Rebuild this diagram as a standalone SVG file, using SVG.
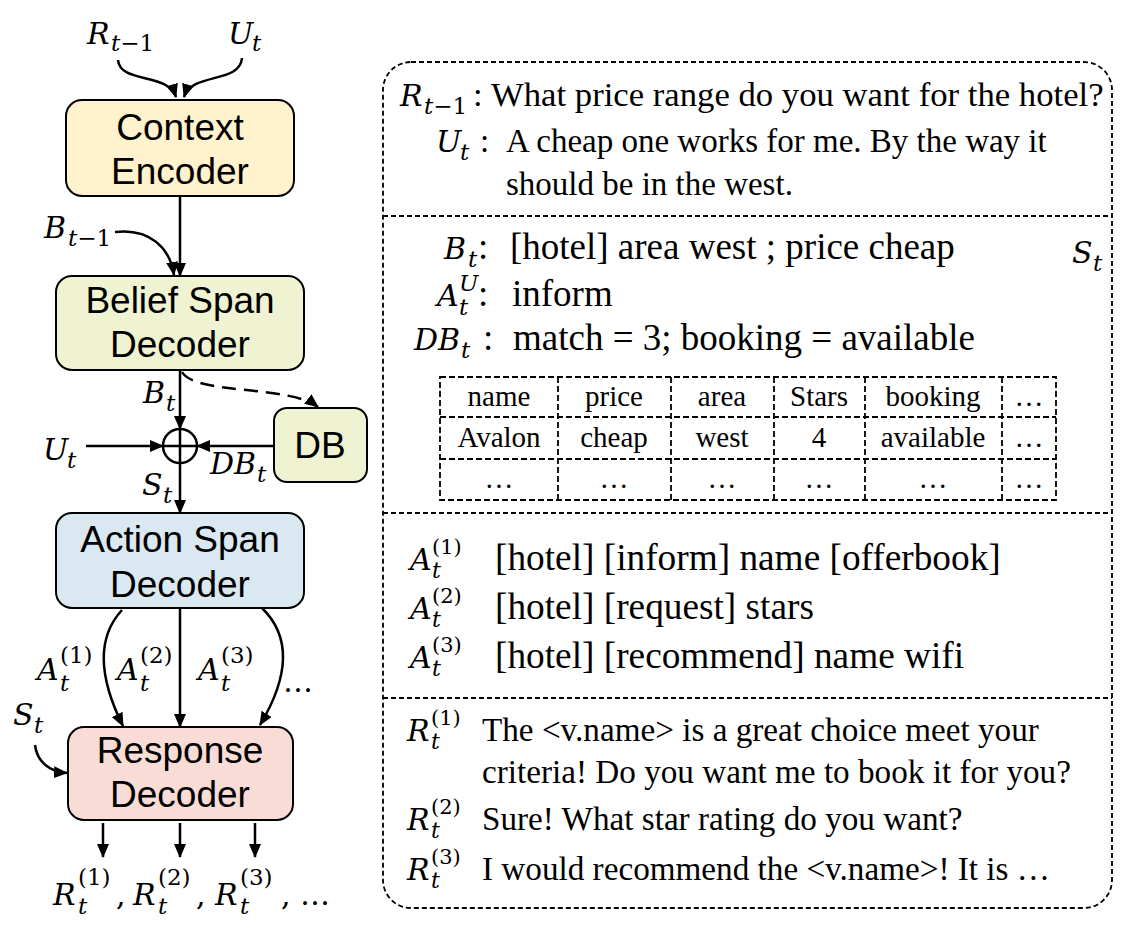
<svg xmlns="http://www.w3.org/2000/svg" width="1127" height="937" viewBox="0 0 1127 937">
<style>
.box{stroke:#000;stroke-width:2}
.lbl{font-family:"Liberation Sans",Arial,sans-serif;font-size:37px;text-anchor:middle;fill:#000}
.m{font-family:"DejaVu Serif","Liberation Serif",serif;font-style:italic;font-size:30px;fill:#000}
.s{font-size:23px}
.s2{font-size:22px}
.sp{font-size:21px;font-style:normal}
.u{font-style:normal}
.t{font-family:"Liberation Serif","Times New Roman",serif;fill:#000}
.t1{font-size:34.7px}
.t1b{font-size:33px}
.t2{font-size:37px}
.t3{font-size:37.3px}
.t4{font-size:33.2px}
.tb{font-size:29px;text-anchor:middle}
.c{stroke:#000;stroke-width:2.5;fill:none}
.d{stroke:#000;stroke-width:1.8;fill:none;stroke-dasharray:6 3}
</style>
<defs>
<marker id="ah" markerUnits="userSpaceOnUse" markerWidth="14" markerHeight="12" refX="13" refY="6" orient="auto">
<path d="M0,0 L14,6 L0,12 z" fill="#000"/>
</marker>
</defs>

<g id="connectors">
<path class="c" d="M118,60 C120,84 168,72 176,97" marker-end="url(#ah)"/>
<path class="c" d="M242,58 C240,84 192,72 184,97" marker-end="url(#ah)"/>
<path class="c" d="M180,196 V276" marker-end="url(#ah)"/>
<path class="c" d="M115,232 C150,228 170,248 174,275" marker-end="url(#ah)"/>
<path class="c" d="M180,370 V429" marker-end="url(#ah)"/>
<path class="c" d="M182,372 C195,395 290,385 318,407" stroke-dasharray="14 8" marker-end="url(#ah)"/>
<path class="c" d="M86,446 H163" marker-end="url(#ah)"/>
<path class="c" d="M274,446 H197" marker-end="url(#ah)"/>
<path class="c" d="M180,463 V513" marker-end="url(#ah)"/>
<path class="c" d="M122,610 Q85,650 123,726" marker-end="url(#ah)"/>
<path class="c" d="M180,608 V727" marker-end="url(#ah)"/>
<path class="c" d="M262,608 Q305,650 260,725" marker-end="url(#ah)"/>
<path class="c" d="M35,745 C37,762 50,772 67,773" marker-end="url(#ah)"/>
<path class="c" d="M103,823 V857" marker-end="url(#ah)"/>
<path class="c" d="M180,823 V857" marker-end="url(#ah)"/>
<path class="c" d="M255,823 V857" marker-end="url(#ah)"/>
</g>

<g id="context-encoder">
<rect class="box" x="66" y="100" width="228" height="96" rx="16" fill="#FFF2CC"/>
<text class="lbl" x="180" y="140">Context</text>
<text class="lbl" x="180" y="184">Encoder</text>
</g>
<g id="belief-span-decoder">
<rect class="box" x="56" y="276" width="248" height="94" rx="16" fill="#EFF3D1"/>
<text class="lbl" x="180" y="313">Belief Span</text>
<text class="lbl" x="180" y="357">Decoder</text>
</g>
<g id="db">
<rect class="box" x="274" y="408" width="93" height="74" rx="13" fill="#EFF3D1"/>
<text class="lbl" x="320" y="458">DB</text>
</g>
<g id="concat">
<circle cx="180" cy="446" r="17" fill="#fff" stroke="#000" stroke-width="2.5"/>
<path d="M163,446 H197 M180,429 V463" stroke="#000" stroke-width="2.5"/>
</g>
<g id="action-span-decoder">
<rect class="box" x="56" y="513" width="248" height="95" rx="16" fill="#DAE8F1"/>
<text class="lbl" x="180" y="552">Action Span</text>
<text class="lbl" x="180" y="597">Decoder</text>
</g>
<g id="response-decoder">
<rect class="box" x="68" y="727" width="225" height="93" rx="16" fill="#F8DCD5"/>
<text class="lbl" x="180" y="763">Response</text>
<text class="lbl" x="180" y="807">Decoder</text>
</g>

<g id="left-labels">
<text class="m" x="87" y="44">R<tspan class="s" x="111" y="51">t<tspan class="u">−1</tspan></tspan></text>
<text class="m" x="228" y="44">U<tspan class="s" x="252" y="51">t</tspan></text>
<text class="m" x="44" y="238">B<tspan class="s" x="68" y="246">t<tspan class="u">−1</tspan></tspan></text>
<text class="m" x="143" y="403">B<tspan class="s" x="166" y="411">t</tspan></text>
<text class="m" x="43" y="460">U<tspan class="s" x="67" y="468">t</tspan></text>
<text class="m" x="210" y="474">DB<tspan class="s" x="257" y="482">t</tspan></text>
<text class="m" x="142" y="495">S<tspan class="s" x="163" y="503">t</tspan></text>
<text class="m" x="37" y="680">A<tspan class="s" x="60" y="691">t</tspan><tspan class="s u" x="60" y="663">(1)</tspan></text>
<text class="m" x="117" y="680">A<tspan class="s" x="140" y="691">t</tspan><tspan class="s u" x="140" y="663">(2)</tspan></text>
<text class="m" x="198" y="680">A<tspan class="s" x="221" y="691">t</tspan><tspan class="s u" x="221" y="663">(3)</tspan></text>
<text class="m u" x="283" y="692">…</text>
<text class="m" x="13" y="725">S<tspan class="s" x="34" y="733">t</tspan></text>
<text class="m" x="53" y="905">R<tspan class="s" x="78" y="914">t</tspan><tspan class="s u" x="78" y="885">(1)</tspan><tspan class="u" x="116" y="905">,</tspan></text>
<text class="m" x="133" y="905">R<tspan class="s" x="158" y="914">t</tspan><tspan class="s u" x="158" y="885">(2)</tspan><tspan class="u" x="196" y="905">,</tspan></text>
<text class="m" x="215" y="905">R<tspan class="s" x="240" y="914">t</tspan><tspan class="s u" x="240" y="885">(3)</tspan><tspan class="u" x="281" y="905">,</tspan></text>
<text class="m u" x="300" y="905">…</text>
</g>

<g id="panel">
<rect x="383" y="62" width="729" height="846" rx="28" fill="none" stroke="#000" stroke-width="1.8" stroke-dasharray="5 3"/>
<path d="M383,216 H1112 M383,513 H1112 M383,698 H1112" stroke="#000" stroke-width="1.8" stroke-dasharray="5 3" fill="none"/>
</g>

<g id="section-context">
<text class="m" x="400" y="106">R<tspan class="s" x="424" y="114">t<tspan class="u">−1</tspan></tspan></text>
<text class="t t1" x="473" y="106">:</text>
<text class="t t1" x="491" y="106">What price range do you want for the hotel?</text>
<text class="m" x="436" y="152">U<tspan class="s" x="460" y="160">t</tspan></text>
<text class="t t1b" x="480" y="152">:</text>
<text class="t t1b" x="506" y="152">A cheap one works for me. By the way it</text>
<text class="t t1b" x="506" y="195">should be in the west.</text>
</g>

<g id="section-state">
<text class="m" x="444" y="259">B<tspan class="s" x="468" y="267">t</tspan></text>
<text class="t t2" x="478" y="259">:</text>
<text class="t t2" x="510" y="259">[hotel] area west ; price cheap</text>
<text class="m" x="1072" y="263">S<tspan class="s" x="1093" y="271">t</tspan></text>
<text class="m" x="437" y="306">A<tspan class="s" x="459" y="315">t</tspan><tspan class="s" x="459" y="291">U</tspan></text>
<text class="t t2" x="478" y="306">:</text>
<text class="t t2" x="512" y="306">inform</text>
<text class="m" x="414" y="350">DB<tspan class="s" x="461" y="358">t</tspan></text>
<text class="t t2" x="483" y="350">:</text>
<text class="t t2" x="513" y="350">match = 3; booking = available</text>
</g>

<g id="db-table">
<rect class="d" x="440" y="377" width="616" height="123"/>
<path class="d" d="M440,417 H1056 M440,459 H1056 M558,377 V500 M671,377 V500 M774,377 V500 M865,377 V500 M1002,377 V500"/>
<text class="t tb" x="499" y="406">name</text>
<text class="t tb" x="614" y="406">price</text>
<text class="t tb" x="722" y="406">area</text>
<text class="t tb" x="819" y="406">Stars</text>
<text class="t tb" x="933" y="406">booking</text>
<text class="t tb" x="1029" y="406">…</text>
<text class="t tb" x="499" y="447">Avalon</text>
<text class="t tb" x="614" y="447">cheap</text>
<text class="t tb" x="722" y="447">west</text>
<text class="t tb" x="819" y="447">4</text>
<text class="t tb" x="933" y="447">available</text>
<text class="t tb" x="1029" y="447">…</text>
<text class="t tb" x="499" y="488">…</text>
<text class="t tb" x="614" y="488">…</text>
<text class="t tb" x="722" y="488">…</text>
<text class="t tb" x="819" y="488">…</text>
<text class="t tb" x="933" y="488">…</text>
<text class="t tb" x="1029" y="488">…</text>
</g>

<g id="section-actions">
<text class="m" x="410" y="570">A<tspan class="s2" x="432" y="578">t</tspan><tspan class="sp" x="432" y="554">(1)</tspan></text>
<text class="t t3" x="495" y="570">[hotel] [inform] name [offerbook]</text>
<text class="m" x="410" y="619">A<tspan class="s2" x="432" y="627">t</tspan><tspan class="sp" x="432" y="603">(2)</tspan></text>
<text class="t t3" x="495" y="619">[hotel] [request] stars</text>
<text class="m" x="410" y="668">A<tspan class="s2" x="432" y="676">t</tspan><tspan class="sp" x="432" y="652">(3)</tspan></text>
<text class="t t3" x="495" y="668">[hotel] [recommend] name wifi</text>
</g>

<g id="section-responses">
<text class="m" x="407" y="741">R<tspan class="s2" x="431" y="749">t</tspan><tspan class="sp" x="431" y="725">(1)</tspan></text>
<text class="t t4" x="482" y="741">The &lt;v.name&gt; is a great choice meet your</text>
<text class="t t4" x="482" y="783">criteria! Do you want me to book it for you?</text>
<text class="m" x="407" y="830">R<tspan class="s2" x="431" y="838">t</tspan><tspan class="sp" x="431" y="814">(2)</tspan></text>
<text class="t t4" x="482" y="830">Sure! What star rating do you want?</text>
<text class="m" x="407" y="880">R<tspan class="s2" x="431" y="888">t</tspan><tspan class="sp" x="431" y="864">(3)</tspan></text>
<text class="t t4" x="482" y="880">I would recommend the &lt;v.name&gt;! It is …</text>
</g>
</svg>
